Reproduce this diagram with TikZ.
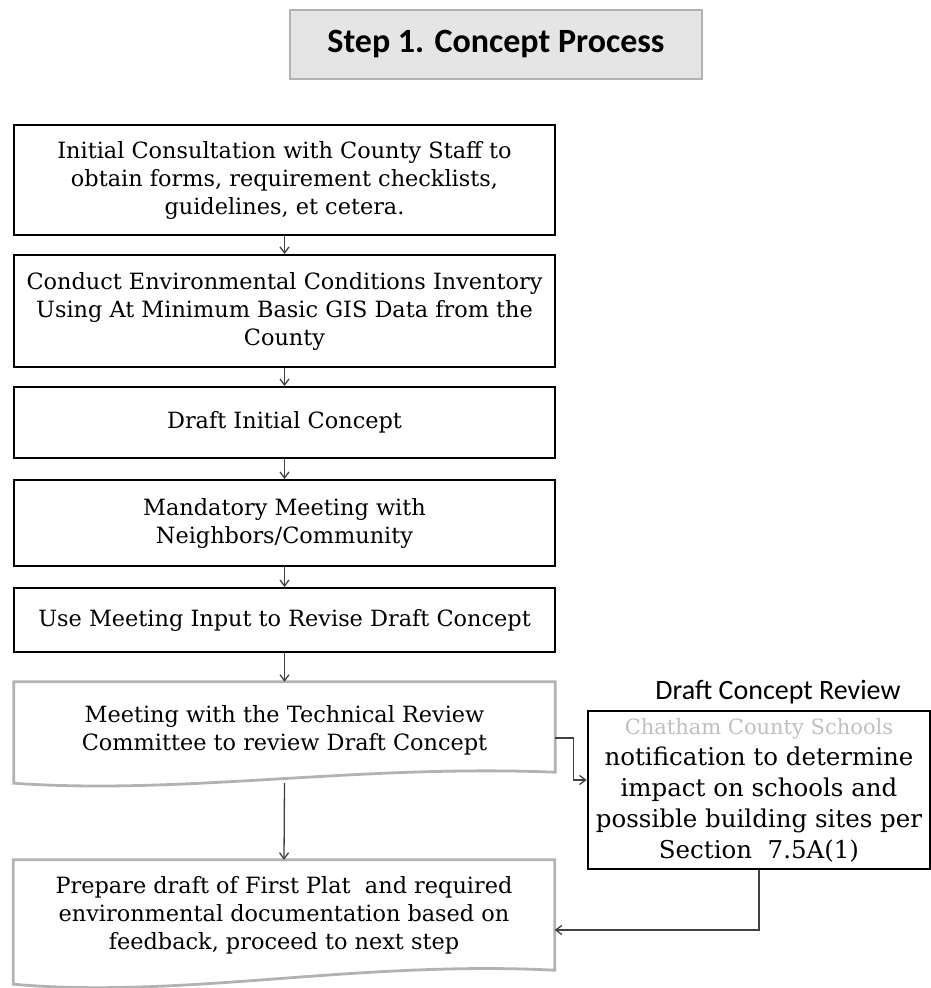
\documentclass[tikz,border=0pt]{standalone}
\usepackage{fontspec}
\setmainfont{DejaVu Serif}
\newfontfamily\headfont{Carlito}
\usetikzlibrary{arrows.meta,positioning,calc}

\begin{document}
\begin{tikzpicture}[x=1pt, y=-1pt,
    stepbox/.style={draw, line width=2pt, minimum width=541pt, align=center,
      inner sep=0pt, font=\fontsize{22.4}{28}\selectfont},
    docbox/.style={minimum width=541pt, align=center, inner sep=0pt,
      font=\fontsize{22.4}{28}\selectfont},
    docline/.style={draw=gray!60, line width=2.8pt},
    titlebox/.style={draw=gray!60, line width=1.6pt, fill=gray!20, minimum width=412pt,
      minimum height=69pt, font=\headfont\bfseries\fontsize{34}{40}\selectfont},
    sidebox/.style={draw, line width=2.8pt, minimum width=342pt, minimum height=158pt,
      align=center, inner sep=0pt, font=\fontsize{24.5}{31}\selectfont},
    arrow/.style={-{Straight Barb[length=6pt,width=9pt]}, line width=1.3pt, black!75},
  ]
    \useasboundingbox (0,0) rectangle (931,988);

    \node[titlebox] (title) at (496,44.5) {Step 1. Concept Process};

    \node[stepbox, minimum height=110pt] (consult) at (284.5,180)
      {Initial Consultation with County Staff to\\obtain forms, requirement checklists,\\guidelines, et cetera.};
    \node[stepbox, minimum height=112pt] (inventory) at (284.5,311)
      {Conduct Environmental Conditions Inventory\\Using At Minimum Basic GIS Data from the\\County};
    \node[stepbox, minimum height=71pt] (draft) at (284.5,422.5) {Draft Initial Concept};
    \node[stepbox, minimum height=86pt] (meeting) at (284.5,523)
      {Mandatory Meeting with\\Neighbors/Community};
    \node[stepbox, minimum height=64pt] (revise) at (284.5,620)
      {Use Meeting Input to Revise Draft Concept};
    \node[docbox, minimum height=90pt] (techrev) at (284.5,730)
      {Meeting with the Technical Review\\Committee to review Draft Concept};
    \node[docbox, minimum height=110pt] (firstplat) at (284,915)
      {Prepare draft of First Plat~ and required\\environmental documentation based on\\feedback, proceed to next step};

    % document shapes with wavy bottom
    \draw[docline] ($(techrev.north west)+(0,-3)$) -- ($(techrev.north east)+(0,-3)$)
      -- ($(techrev.south east)+(0,-3)$)
      .. controls +(-200,-8) and +(170,12) .. ($(techrev.south west)+(0,8)$) -- cycle;
    \draw[docline] (firstplat.north west) -- (firstplat.north east) -- (firstplat.south east)
      .. controls +(-200,-10) and +(170,15) .. ($(firstplat.south west)+(0,14)$) -- cycle;

    \node[font=\headfont\fontsize{28}{32}\selectfont] (revlabel) at (778,692) {Draft Concept Review};
    \node[sidebox] (schools) at (759,790)
      {{\color{gray!50}\fontsize{21}{31}\selectfont Chatham County Schools}\\notification to determine\\
       impact on schools and\\possible building sites per\\Section~~7.5A(1)};

    \draw[arrow] (consult) -- (inventory);
    \draw[arrow] (inventory) -- (draft);
    \draw[arrow] (draft) -- (meeting);
    \draw[arrow] (meeting) -- (revise);
    \draw[arrow] (revise) -- ($(techrev.north)+(0,-3)$);
    \draw[arrow] ($(techrev.south)+(0,8)$) -- (firstplat.north);
    \draw[arrow] ($(techrev.east)+(0,8)$) -- ++(18,0) |- ($(schools.west)+(0,-10)$);
    \draw[arrow] (schools.south) |- ($(firstplat.east)+(0,15)$);
  \end{tikzpicture}
\end{document}
